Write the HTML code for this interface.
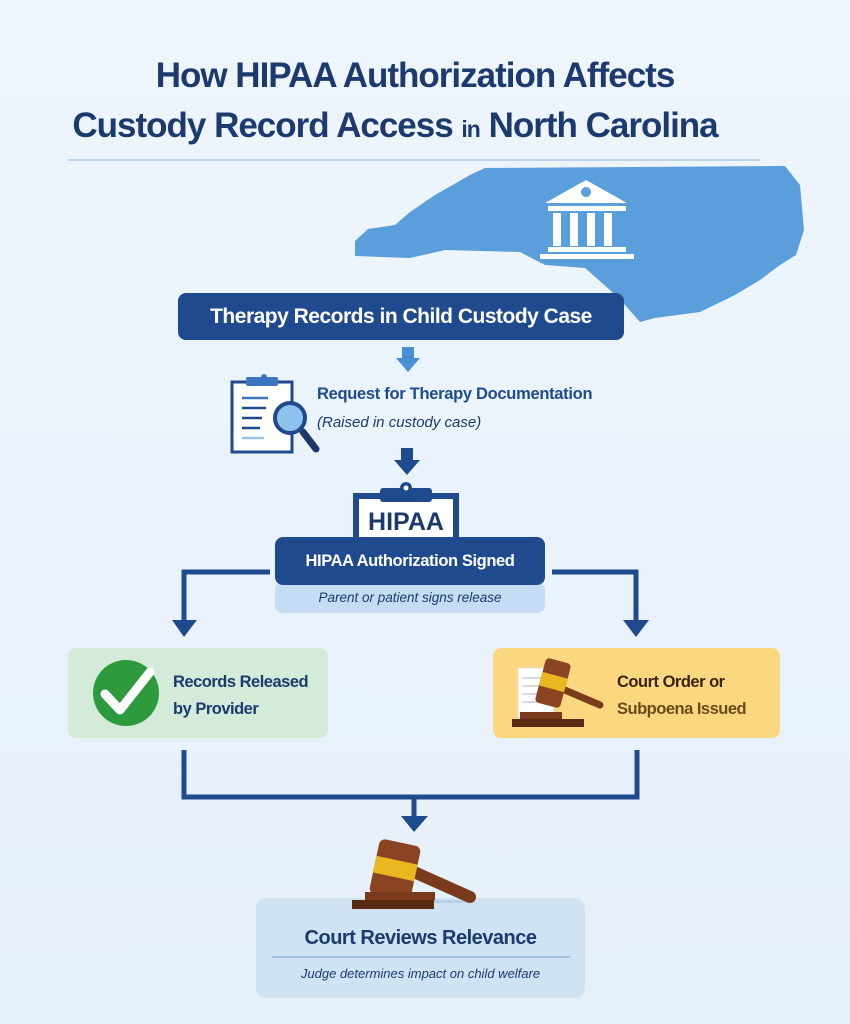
<!DOCTYPE html>
<html><head><meta charset="utf-8"><style>
body{margin:0;width:850px;height:1024px;background:linear-gradient(#eef5fc,#e6f0fa);font-family:"Liberation Sans",sans-serif;position:relative;overflow:hidden}
.a{position:absolute}
.t{color:#1c3a6e;font-weight:bold;font-size:35px;letter-spacing:-1px;width:850px;text-align:center;left:-10px}
</style></head><body>
<div class="a t" style="top:56px">How HIPAA Authorization Affects</div>
<div class="a t" style="top:106px;left:-30px">Custody Record Access <span style="font-size:23px">in</span> North Carolina</div>
<div class="a" style="left:68px;top:159px;width:692px;height:2px;background:#bcd3ea"></div>
<svg class="a" style="left:0;top:0" width="850" height="1024">
<polygon fill="#5a9fdc" points="355,241 368,229 395,225 410,212 435,195 470,175 485,168 785,166 800,185 804,230 796,255 780,265 760,280 735,295 700,312 655,318 640,322 625,305 610,290 585,268 545,265 520,252 445,250 410,258 355,256"/>
<g fill="#fff">
<polygon points="586,180 545,203 627,203"/>
<rect x="548" y="206" width="78" height="5"/>
<rect x="553" y="213" width="8" height="33"/><rect x="570" y="213" width="8" height="33"/><rect x="587" y="213" width="8" height="33"/><rect x="604" y="213" width="8" height="33"/>
<rect x="548" y="247" width="78" height="5"/><rect x="540" y="254" width="94" height="5"/>
</g>
<circle cx="586" cy="192" r="5" fill="#5a9fdc"/>
<rect x="178" y="293" width="446" height="47" rx="8" fill="#1f4b8e"/>
<polygon fill="#4a90d6" points="402,347 414,347 414,358 420,358 408,372 396,358 402,358"/>
<rect x="232" y="382" width="60" height="70" fill="#fff" stroke="#1f4b8e" stroke-width="3"/>
<rect x="246" y="377" width="32" height="9" rx="2" fill="#3a76bd"/>
<circle cx="264" cy="377" r="3" fill="#3a76bd"/>
<g stroke-width="2.5"><line x1="242" y1="398" x2="268" y2="398" stroke="#3a76bd"/><line x1="242" y1="408" x2="266" y2="408" stroke="#1f4b8e"/><line x1="242" y1="418" x2="262" y2="418" stroke="#1f4b8e"/><line x1="242" y1="428" x2="260" y2="428" stroke="#1f4b8e"/><line x1="242" y1="438" x2="264" y2="438" stroke="#9cc2e8"/></g>
<line x1="303" y1="432" x2="316" y2="449" stroke="#1b3a6a" stroke-width="7" stroke-linecap="round"/>
<circle cx="290" cy="418" r="15" fill="#8ec2ef" stroke="#1f4b8e" stroke-width="4"/>
<polygon fill="#1f4b8e" points="401,448 413,448 413,460 420,460 407,475 394,460 401,460"/>
<rect x="356" y="496" width="100" height="46" fill="#fff" stroke="#1f4b8e" stroke-width="6"/>
<rect x="380" y="488" width="52" height="14" rx="3" fill="#1f4b8e"/>
<circle cx="406" cy="488" r="6" fill="#1f4b8e"/><circle cx="406" cy="488" r="2.5" fill="#fff"/>
<rect x="275" y="582" width="270" height="31" rx="8" fill="#c4dcf4"/>
<rect x="275" y="537" width="270" height="48" rx="8" fill="#1f4b8e"/>
<g fill="none" stroke="#1f4b8e" stroke-width="5">
<polyline points="270,572 184,572 184,622"/><polyline points="552,572 636,572 636,622"/>
<polyline points="184,750 184,797 637,797 637,750"/><line x1="414" y1="797" x2="414" y2="818"/>
</g>
<polygon fill="#1f4b8e" points="172,620 197,620 184,637"/><polygon fill="#1f4b8e" points="623,620 649,620 636,637"/>
<polygon fill="#1f4b8e" points="401,816 428,816 414,832"/>
<rect x="68" y="648" width="260" height="90" rx="8" fill="#d3ebd8"/>
<rect x="493" y="648" width="287" height="90" rx="8" fill="#fbd880"/>
<circle cx="126" cy="693" r="33" fill="#2e9a3e"/>
<polyline points="105,694 120,710 150,672" fill="none" stroke="#fff" stroke-width="9" stroke-linecap="round" stroke-linejoin="round"/>
<rect x="518" y="668" width="36" height="50" fill="#fff" stroke="#ddd"/>
<g stroke="#ccc" stroke-width="1.5"><line x1="523" y1="678" x2="548" y2="678"/><line x1="523" y1="686" x2="548" y2="686"/><line x1="523" y1="694" x2="548" y2="694"/><line x1="523" y1="702" x2="548" y2="702"/></g>
<line x1="560" y1="688" x2="600" y2="705" stroke="#7a3b1c" stroke-width="7" stroke-linecap="round"/>
<rect x="540" y="660" width="26" height="46" rx="4" fill="#8a4422" transform="rotate(15 553 683)"/>
<rect x="540" y="675" width="26" height="14" fill="#e8b820" transform="rotate(15 553 683)"/>
<rect x="520" y="712" width="42" height="7" fill="#7a3b1c"/><rect x="512" y="719" width="72" height="8" fill="#5a2a12"/>
<rect x="256" y="898" width="329" height="100" rx="10" fill="#cfe3f5"/>
<line x1="272" y1="957" x2="570" y2="957" stroke="#8fb3d8" stroke-width="1.5"/>
<rect x="360" y="900" width="110" height="3" fill="#b7cfe8"/>
<line x1="405" y1="868" x2="470" y2="897" stroke="#7a3b1c" stroke-width="12" stroke-linecap="round"/>
<rect x="374" y="842" width="42" height="56" rx="6" fill="#8a4422" transform="rotate(12 395 870)"/>
<rect x="374" y="860" width="42" height="17" fill="#e8b820" transform="rotate(12 395 870)"/>
<rect x="365" y="892" width="70" height="8" fill="#7a3b1c"/><rect x="352" y="900" width="82" height="9" fill="#5a2a12"/>
</svg>
<div class="a" style="left:178px;top:305px;width:446px;text-align:center;color:#fff;font-weight:bold;font-size:21px;letter-spacing:-0.5px">Therapy Records in Child Custody Case</div>
<div class="a" style="left:317px;top:385px;color:#1f4b8e;font-weight:bold;font-size:16.5px;letter-spacing:-0.3px">Request for Therapy Documentation</div>
<div class="a" style="left:317px;top:414px;color:#1c3a6e;font-style:italic;font-size:15px">(Raised in custody case)</div>
<div class="a" style="left:356px;top:508px;width:100px;text-align:center;color:#1c3a6e;font-weight:bold;font-size:25px">HIPAA</div>
<div class="a" style="left:275px;top:552px;width:270px;text-align:center;color:#fff;font-weight:bold;font-size:16.5px;letter-spacing:-0.4px">HIPAA Authorization Signed</div>
<div class="a" style="left:275px;top:590px;width:270px;text-align:center;color:#1c3a6e;font-style:italic;font-size:13.5px">Parent or patient signs release</div>
<div class="a" style="left:173px;top:669px;color:#1c3a6e;font-weight:bold;font-size:16.5px;line-height:27px;letter-spacing:-0.5px">Records Released<br>by Provider</div>
<div class="a" style="left:617px;top:669px;color:#3a2410;font-weight:bold;font-size:16.5px;line-height:27px;letter-spacing:-0.5px">Court Order or<br><span style="color:#6a4a1a">Subpoena Issued</span></div>
<div class="a" style="left:256px;top:927px;width:329px;text-align:center;color:#1c3a6e;font-weight:bold;font-size:20px;letter-spacing:-0.5px">Court Reviews Relevance</div>
<div class="a" style="left:256px;top:966px;width:329px;text-align:center;color:#1c3a6e;font-style:italic;font-size:13px">Judge determines impact on child welfare</div>
</body></html>
